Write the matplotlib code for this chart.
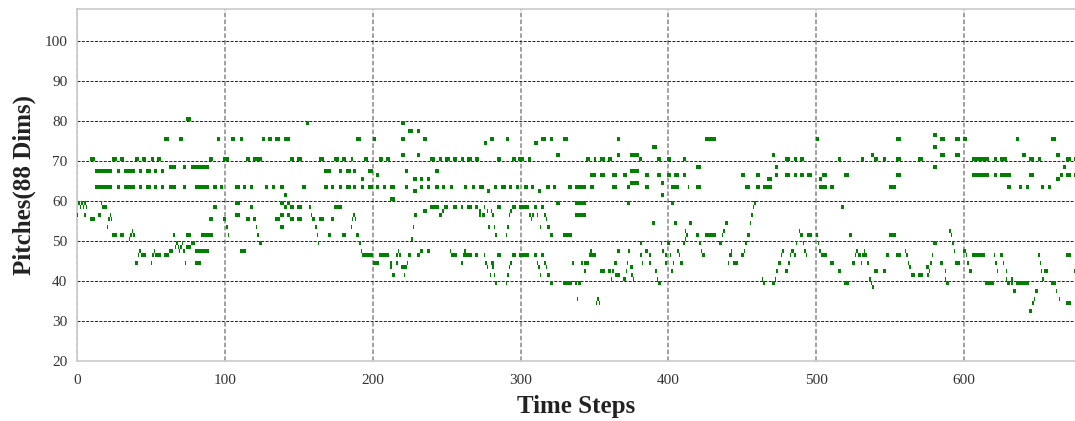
import matplotlib
matplotlib.use("Agg")
import matplotlib.pyplot as plt

# piano-roll notes: (start step, length in steps, pitch)
notes_000 = [
    (74, 3, 80),
    (59, 3, 75), (69, 3, 75), (95, 2, 75),
    (9, 3, 70), (24, 3, 70), (29, 3, 70), (39, 3, 70), (44, 3, 70), (50, 2, 70), (54, 3, 70), (89, 3, 70), (99, 4, 70),
    (62, 5, 68), (72, 2, 68), (77, 12, 68),
    (12, 12, 67), (27, 2, 67), (32, 7, 67), (42, 2, 67), (47, 3, 67), (52, 2, 67), (57, 2, 67),
    (12, 12, 63), (27, 2, 63), (32, 7, 63), (42, 2, 63), (47, 3, 63), (52, 2, 63), (57, 2, 63), (62, 5, 63),
    (72, 2, 63), (80, 9, 63), (92, 3, 63), (97, 2, 63),
    (1, 1, 59), (2, 1, 58), (3, 1, 59), (4, 1, 58), (5, 1, 59), (6, 1, 58), (16, 1, 59), (17, 1, 58), (18, 2, 58), (92, 3, 58),
    (0, 1, 56), (5, 1, 56), (14, 2, 56), (21, 1, 55), (22, 1, 56), (23, 1, 55),
    (9, 3, 55), (89, 3, 55), (99, 2, 55),
    (20, 1, 53), (101, 1, 53),
    (24, 3, 51), (29, 3, 51), (74, 3, 51), (84, 8, 51), (102, 1, 51), (65, 1, 51),
    (35, 1, 50), (36, 1, 51), (37, 1, 52), (38, 1, 51),
    (77, 3, 49), (74, 3, 48),
    (66, 1, 48), (67, 1, 49), (68, 1, 48), (69, 1, 47), (70, 1, 48), (71, 1, 49), (72, 1, 47),
    (59, 3, 46), (62, 3, 47), (80, 9, 47),
    (43, 4, 46), (53, 4, 46), (41, 1, 46), (42, 1, 47), (51, 1, 46), (52, 1, 47),
    (39, 2, 44), (50, 1, 44), (73, 1, 44), (80, 4, 44),
]

notes_100 = [
    (155, 2, 79),
    (104, 3, 75), (110, 2, 75), (125, 2, 75), (129, 3, 75), (134, 3, 75), (140, 4, 75), (189, 3, 75),
    (114, 3, 70), (119, 6, 70), (144, 3, 70), (149, 3, 70), (164, 3, 70), (174, 3, 70), (179, 3, 70), (185, 2, 70), (194, 3, 70),
    (167, 5, 67), (177, 2, 67), (182, 3, 67), (187, 2, 67), (197, 3, 67),
    (192, 2, 65),
    (107, 3, 63), (112, 2, 63), (117, 2, 63), (127, 2, 63), (132, 2, 63), (137, 3, 63), (152, 3, 63), (167, 3, 63),
    (172, 2, 63), (177, 2, 63), (182, 3, 63), (187, 2, 63), (192, 2, 63), (197, 3, 63),
    (140, 2, 61),
    (107, 3, 59), (137, 3, 59), (142, 2, 59),
    (117, 2, 58), (140, 2, 58), (144, 3, 58), (149, 3, 58), (157, 1, 58), (174, 5, 58),
    (107, 3, 56), (137, 3, 56), (142, 2, 56), (158, 1, 56), (187, 1, 56),
    (114, 3, 55), (119, 2, 55), (134, 3, 55), (144, 3, 55), (149, 3, 55), (159, 2, 55), (164, 3, 55), (172, 2, 55),
    (186, 1, 55), (188, 1, 55),
    (121, 1, 53), (137, 3, 53), (161, 1, 53), (185, 1, 53),
    (122, 1, 51), (162, 1, 51), (170, 2, 51), (179, 3, 51), (189, 2, 51),
    (123, 2, 49), (163, 1, 49), (191, 1, 49),
    (110, 4, 47), (192, 1, 47),
    (193, 7, 46),
]

notes_200 = [
    (219, 3, 79),
    (224, 3, 77), (230, 2, 77),
    (200, 2, 75), (219, 3, 75), (234, 3, 75), (279, 3, 75), (290, 2, 75),
    (275, 2, 74),
    (219, 3, 71), (230, 2, 71),
    (204, 3, 70), (209, 3, 70), (239, 3, 70), (245, 2, 70), (249, 3, 70), (254, 3, 70), (260, 2, 70), (264, 3, 70),
    (269, 3, 70), (284, 3, 70), (294, 3, 70), (299, 2, 70),
    (198, 2, 67), (222, 2, 67), (242, 3, 67),
    (202, 2, 66),
    (227, 3, 65), (232, 2, 65), (237, 2, 65),
    (202, 2, 63), (207, 2, 63), (212, 3, 63), (222, 2, 63), (232, 2, 63), (237, 2, 63), (242, 3, 63), (247, 2, 63),
    (252, 2, 63), (262, 2, 63), (267, 2, 63), (272, 3, 63), (282, 2, 63), (287, 3, 63), (292, 2, 63), (297, 2, 63),
    (227, 3, 62), (277, 2, 62),
    (212, 3, 60),
    (239, 6, 58), (248, 3, 58), (254, 3, 58), (260, 1, 58), (264, 3, 58), (269, 2, 58), (275, 1, 58), (284, 3, 58),
    (294, 3, 58), (299, 2, 58),
    (234, 3, 57), (247, 1, 57), (272, 1, 57), (277, 1, 57), (280, 1, 57), (293, 1, 57),
    (228, 2, 56), (245, 2, 56), (272, 1, 56), (274, 2, 56), (281, 1, 56), (292, 1, 56),
    (227, 1, 53), (278, 1, 53), (282, 1, 53), (291, 1, 53),
    (283, 1, 51), (290, 1, 51),
    (226, 1, 50),
    (217, 1, 47), (232, 2, 47), (237, 2, 47), (252, 1, 47), (262, 1, 47),
    (198, 2, 46), (204, 7, 46), (216, 1, 46), (218, 1, 46), (224, 2, 46), (230, 2, 46), (253, 4, 46), (261, 6, 46),
    (269, 2, 46), (275, 1, 46), (284, 3, 46), (294, 3, 46),
    (200, 4, 44), (212, 1, 44), (216, 1, 44), (223, 1, 44), (260, 1, 44), (276, 1, 44), (280, 2, 44), (293, 1, 44),
    (212, 1, 43), (219, 4, 43), (277, 1, 43), (281, 1, 43), (292, 1, 43),
    (213, 2, 41), (221, 1, 41), (279, 1, 41), (282, 1, 41), (291, 1, 41),
    (283, 1, 39), (290, 1, 39),
]

notes_300 = [
    (314, 3, 75), (320, 2, 75), (329, 3, 75), (365, 2, 75),
    (309, 3, 74),
    (389, 3, 73),
    (324, 3, 71), (365, 2, 71), (374, 6, 71),
    (298, 4, 70), (305, 2, 70), (344, 3, 70), (350, 1, 70), (354, 3, 70), (359, 3, 70), (380, 2, 70), (392, 3, 70),
    (374, 6, 67),
    (347, 4, 66), (354, 3, 66), (362, 3, 66), (369, 3, 66), (384, 3, 66), (392, 3, 66),
    (374, 6, 64), (395, 2, 64),
    (298, 1, 63), (302, 3, 63), (307, 2, 63), (317, 3, 63), (322, 2, 63), (332, 3, 63), (337, 7, 63), (347, 3, 63),
    (362, 3, 63), (372, 2, 63), (384, 3, 63),
    (312, 2, 62),
    (395, 2, 61),
    (324, 3, 59), (337, 7, 59), (372, 2, 59),
    (299, 7, 58), (309, 2, 58), (314, 2, 58),
    (337, 7, 56), (306, 1, 56), (307, 1, 55), (308, 1, 56), (311, 1, 56), (316, 1, 56), (317, 1, 55),
    (389, 2, 54),
    (313, 1, 53), (318, 2, 53),
    (320, 2, 51), (329, 6, 51),
    (381, 1, 49), (395, 1, 49), (399, 2, 49),
    (347, 1, 47), (365, 2, 47), (373, 1, 47), (384, 2, 47), (396, 1, 47),
    (299, 7, 46), (309, 2, 46), (314, 2, 46), (346, 5, 46), (381, 1, 46), (387, 1, 46), (398, 1, 46),
    (311, 1, 44), (316, 1, 44), (335, 1, 44), (341, 1, 44), (343, 3, 44), (363, 2, 44), (372, 1, 44), (382, 1, 44),
    (387, 1, 44),
    (312, 1, 43), (317, 1, 43), (374, 2, 43),
    (343, 1, 42), (354, 3, 42), (359, 2, 42), (362, 1, 42), (371, 1, 42), (391, 1, 42),
    (313, 1, 41), (318, 2, 41), (364, 3, 41), (375, 1, 41),
    (361, 1, 40), (369, 2, 40), (376, 1, 40), (392, 1, 40),
    (320, 2, 39), (329, 6, 39), (337, 1, 39), (339, 2, 39), (393, 2, 39),
    (338, 1, 35), (351, 1, 34), (352, 1, 35), (353, 1, 34),
]

notes_400 = [
    (425, 7, 75),
    (470, 2, 71),
    (399, 3, 70), (410, 2, 70), (479, 3, 70), (485, 2, 70), (489, 3, 70),
    (419, 3, 68), (472, 2, 68),
    (399, 3, 66), (404, 3, 66), (410, 2, 66), (449, 3, 66), (459, 3, 66), (472, 2, 66), (479, 3, 66), (485, 2, 66),
    (489, 3, 66), (494, 3, 66),
    (467, 3, 65),
    (402, 5, 63), (413, 1, 63), (419, 3, 63), (452, 3, 63), (459, 3, 63), (464, 6, 63),
    (402, 2, 59), (458, 1, 59), (457, 1, 58), (456, 1, 56), (455, 1, 54),
    (404, 2, 54), (414, 2, 54), (438, 2, 54),
    (411, 1, 52), (437, 1, 52), (488, 1, 52),
    (412, 1, 51), (419, 2, 51), (425, 7, 51), (436, 1, 51), (453, 2, 51), (489, 2, 51), (494, 3, 51),
    (411, 1, 50),
    (399, 2, 49), (410, 1, 49), (421, 1, 49), (434, 2, 49), (452, 1, 49), (486, 1, 49), (491, 1, 49),
    (406, 1, 47), (422, 1, 47), (442, 1, 47), (451, 1, 47), (477, 1, 47), (483, 2, 47), (492, 1, 47),
    (401, 1, 46), (407, 1, 46), (423, 2, 46), (441, 2, 46), (449, 2, 46), (476, 1, 46), (482, 1, 46), (485, 1, 46),
    (493, 1, 46),
    (398, 1, 44), (403, 1, 44), (408, 2, 44), (440, 1, 44), (444, 3, 44), (474, 2, 44), (481, 1, 44),
    (402, 1, 42), (473, 1, 42), (479, 2, 42),
    (463, 1, 40), (464, 1, 39), (470, 2, 39), (472, 1, 40),
]

notes_500 = [
    (579, 3, 76),
    (500, 2, 75), (554, 3, 75), (584, 3, 75), (594, 3, 75),
    (579, 3, 73),
    (537, 2, 71), (584, 3, 71), (594, 3, 71),
    (515, 2, 70), (530, 2, 70), (539, 3, 70), (545, 2, 70), (554, 3, 70), (569, 3, 70),
    (579, 3, 68),
    (504, 3, 66), (519, 3, 66), (554, 3, 66),
    (502, 2, 65),
    (502, 5, 63), (509, 3, 63), (549, 5, 63),
    (517, 2, 58),
    (590, 1, 52),
    (500, 1, 51), (522, 2, 51), (549, 5, 51), (591, 1, 51),
    (501, 1, 49), (579, 3, 49), (592, 1, 49),
    (502, 1, 47), (527, 1, 47), (532, 1, 47), (560, 1, 47), (593, 1, 47),
    (503, 4, 46), (526, 1, 46), (528, 2, 46), (531, 3, 46), (547, 2, 46), (554, 3, 46), (561, 1, 46), (578, 1, 46),
    (509, 3, 44), (524, 2, 44), (530, 1, 44), (534, 2, 44), (562, 1, 44), (577, 1, 44), (584, 2, 44), (594, 3, 44),
    (563, 1, 43), (574, 2, 43),
    (515, 2, 42), (539, 3, 42), (545, 2, 42), (576, 1, 42), (587, 1, 42),
    (564, 3, 41), (569, 3, 41), (575, 1, 41),
    (536, 1, 40), (587, 1, 40),
    (519, 3, 39), (537, 1, 39), (588, 2, 39),
    (538, 1, 38),
]

notes_600 = [
    (599, 3, 75), (635, 2, 75), (659, 3, 75),
    (639, 3, 71), (662, 3, 71),
    (605, 12, 70), (620, 2, 70), (624, 5, 70), (644, 3, 70), (650, 2, 70), (669, 3, 70), (674, 2, 70),
    (667, 2, 68),
    (605, 12, 66), (620, 2, 66), (624, 8, 66), (644, 3, 66), (665, 2, 66), (669, 3, 66), (674, 2, 66),
    (662, 3, 65),
    (629, 3, 63), (637, 2, 63), (642, 2, 63), (652, 2, 63), (657, 2, 63),
    (599, 2, 47),
    (601, 1, 46), (605, 9, 46), (620, 1, 46), (624, 2, 46), (650, 1, 46), (669, 3, 46),
    (602, 1, 44), (621, 1, 44), (626, 1, 44), (651, 1, 44),
    (603, 2, 42), (622, 1, 42), (628, 1, 42), (652, 1, 42), (654, 3, 42), (674, 1, 42),
    (628, 1, 40), (632, 1, 40), (653, 1, 40),
    (614, 6, 39), (629, 2, 39), (632, 1, 39), (635, 9, 39), (659, 3, 39),
    (633, 2, 37), (648, 2, 37), (662, 1, 37),
    (647, 1, 35), (664, 1, 35),
    (646, 1, 34), (669, 3, 34),
    (644, 2, 32),
]

x_ticks = [0, 100, 200, 300, 400, 500, 600]
y_ticks = [20, 30, 40, 50, 60, 70, 80, 90, 100]

all_notes = notes_000 + notes_100 + notes_200 + notes_300 + notes_400 + notes_500 + notes_600
starts = [n[0] for n in all_notes]
lengths = [n[1] for n in all_notes]
pitches = [n[2] for n in all_notes]

plt.rcParams['font.family'] = ['Liberation Serif', 'DejaVu Serif']

fig = plt.figure(figsize=(10.75, 4.21), dpi=100)
ax = fig.add_axes([77 / 1075, 1 - 361 / 421, 1 - 77 / 1075, (361 - 9) / 421])

ax.bar(starts, [1] * len(starts), width=lengths, bottom=pitches, align='edge',
       color='green', linewidth=0, zorder=3)

ax.set_xlim(0, 675)
ax.set_ylim(20, 108)
ax.set_xticks(x_ticks)
ax.set_yticks(y_ticks)

ax.set_axisbelow(True)
ax.yaxis.grid(True, color='#222222', linestyle='--', linewidth=0.7, dashes=(3, 1.5))
ax.xaxis.grid(True, color='#888888', linestyle='--', linewidth=1.1, dashes=(3, 1.5))

for side in ['left', 'bottom', 'top']:
    ax.spines[side].set_color('#cccccc')
    ax.spines[side].set_linewidth(1.25)
ax.spines['right'].set_visible(False)

ax.tick_params(axis='x', length=0, pad=9, labelsize=11, labelcolor='#333333')
ax.tick_params(axis='y', length=0, pad=7, labelsize=11, labelcolor='#333333')

ax.set_xlabel('Time Steps', fontsize=18, fontweight='bold', color='#222222', labelpad=6)
ax.set_ylabel('Pitches(88 Dims)', fontsize=18, fontweight='bold', color='#222222', labelpad=6)

fig.savefig('out.png', dpi=100)
